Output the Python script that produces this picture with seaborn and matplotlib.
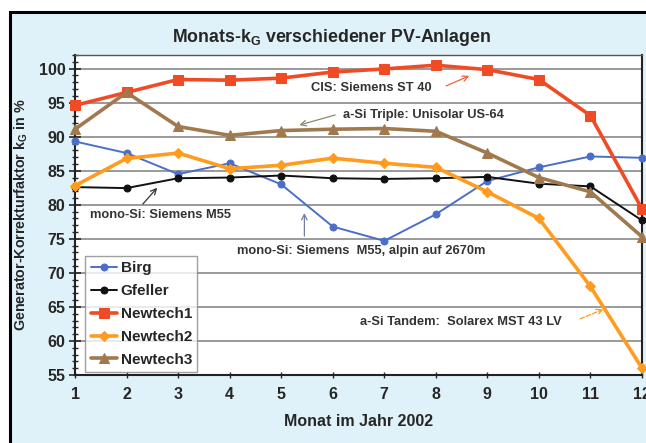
import matplotlib
matplotlib.use("Agg")
import matplotlib.pyplot as plt
from matplotlib.patches import Rectangle
from matplotlib.ticker import MultipleLocator
import seaborn as sns
import pandas as pd

months = [1, 2, 3, 4, 5, 6, 7, 8, 9, 10, 11, 12]
birg = [89.3, 87.6, 84.5, 86.1, 83.0, 76.8, 74.7, 78.6, 83.5, 85.5, 87.1, 86.9]
gfeller = [82.6, 82.45, 83.9, 84.0, 84.3, 83.9, 83.8, 83.9, 84.1, 83.1, 82.7, 77.7]
newtech1 = [94.6, 96.5, 98.4, 98.3, 98.6, 99.5, 99.95, 100.5, 99.85, 98.4, 93.1, 79.4]
newtech2 = [82.8, 86.8, 87.6, 85.3, 85.8, 86.85, 86.1, 85.5, 81.9, 78.0, 68.0, 56.0]
newtech3 = [91.1, 96.5, 91.5, 90.2, 90.9, 91.1, 91.2, 90.8, 87.6, 84.0, 81.9, 75.3]
series_names = ["Birg", "Gfeller", "Newtech1", "Newtech2", "Newtech3"]
title = "Monats-k$_\\mathregular{G}$ verschiedener PV-Anlagen"
ylabel = "Generator-Korrekturfaktor k$_\\mathregular{G}$ in %"
xlabel = "Monat im Jahr 2002"

values = [birg, gfeller, newtech1, newtech2, newtech3]
colors = ["#4a6fc8", "#111111", "#f04b25", "#ff9b1f", "#a07a4e"]
markers = ["o", "o", "s", "D", "^"]
msizes = [5, 5, 7, 5, 7]
lwidths = [1.4, 1.4, 2.6, 2.6, 2.6]

sns.set_style("white")
plt.rcParams["font.family"] = ["Liberation Sans", "DejaVu Sans"]

fig = plt.figure(figsize=(6.46, 4.43), dpi=100)
fig.patch.set_facecolor("white")
frame = Rectangle((10 / 646, -0.1), 1.2, 1 - 12 / 443 + 0.1,
                  transform=fig.transFigure, facecolor="#e0f2f9",
                  edgecolor="black", linewidth=2.2, zorder=-10)
fig.add_artist(frame)

ax = fig.add_axes([75 / 646, 1 - 375 / 443, (642 - 75) / 646, (375 - 55) / 443])
ax.set_zorder(1)
ax.set_facecolor("white")

for name, vals, c, m, ms, lw in zip(series_names, values, colors, markers, msizes, lwidths):
    df = pd.DataFrame({"Monat": months, "kG": vals})
    sns.lineplot(data=df, x="Monat", y="kG", ax=ax, color=c, marker=m,
                 markersize=ms, linewidth=lw, label=name, markeredgecolor=c,
                 clip_on=False, zorder=3)

ax.set_xlim(1, 12)
ax.set_ylim(55, 102)
ax.set_xticks(months)
ax.yaxis.set_major_locator(MultipleLocator(5))
ax.yaxis.set_minor_locator(MultipleLocator(1))
ax.set_yticks(list(range(55, 101, 5)))
ax.grid(axis="y", which="major", color="#9a9a9a", linewidth=1.4)
ax.grid(axis="x", visible=False)
ax.tick_params(axis="y", which="major", direction="inout", length=8, width=1.2,
               labelsize=11.5, pad=3, left=True)
ax.tick_params(axis="y", which="minor", direction="inout", length=5, width=1.0, left=True)
ax.tick_params(axis="x", which="major", direction="inout", length=5, width=1.0,
               labelsize=11.5, pad=6, bottom=True)
for lab in ax.get_xticklabels() + ax.get_yticklabels():
    lab.set_fontweight("bold")
for s in ["left", "bottom", "right"]:
    ax.spines[s].set_color("#222222")
    ax.spines[s].set_linewidth(1.5)
ax.spines["top"].set_color("#555555")
ax.spines["top"].set_linewidth(1.0)

ax.set_xlabel(xlabel, fontsize=11.5, fontweight="bold", labelpad=9)
ax.set_ylabel(ylabel, fontsize=10.3, fontweight="bold", labelpad=6)
fig.text(332 / 646, 1 - 38 / 443, title, ha="center", va="center",
         fontsize=12.8, fontweight="bold")

leg = ax.legend(loc="lower left", bbox_to_anchor=(0.005, -0.015), frameon=True,
                fancybox=False, edgecolor="#888888", fontsize=11,
                handlelength=1.7, handletextpad=0.25, labelspacing=0.58,
                borderpad=0.35, borderaxespad=0.5)
for t in leg.get_texts():
    t.set_fontweight("bold")
leg.get_frame().set_linewidth(1.0)

tk = dict(fontsize=9.3, fontweight="bold", color="#333333", va="center")
ax.text(5.57, 97.2, "CIS: Siemens ST 40", **tk)
ax.annotate("", xy=(8.7, 99.1), xytext=(8.15, 97.3),
            arrowprops=dict(arrowstyle="->", color="#f06040", lw=0.9))
ax.text(6.2, 93.2, "a-Si Triple: Unisolar US-64", **tk)
ax.annotate("", xy=(5.3, 91.6), xytext=(6.1, 93.3),
            arrowprops=dict(arrowstyle="->", color="#8a8a70", lw=0.9))
ax.text(1.3, 78.5, "mono-Si: Siemens M55", **tk)
ax.annotate("", xy=(2.63, 82.8), xytext=(2.28, 79.8),
            arrowprops=dict(arrowstyle="->", color="#333333", lw=0.9))
ax.text(4.15, 73.2, "mono-Si: Siemens  M55, alpin auf 2670m", **tk)
ax.annotate("", xy=(5.45, 79.2), xytext=(5.45, 75.0),
            arrowprops=dict(arrowstyle="->", color="#7080a0", lw=0.9))
ax.text(6.53, 62.8, "a-Si Tandem:  Solarex MST 43 LV", **tk)
ax.annotate("", xy=(11.3, 64.8), xytext=(10.75, 63.1),
            arrowprops=dict(arrowstyle="->", color="#ff9b1f", lw=0.9, linestyle="--"))

fig.savefig("out.png", dpi=100, facecolor=fig.get_facecolor())
